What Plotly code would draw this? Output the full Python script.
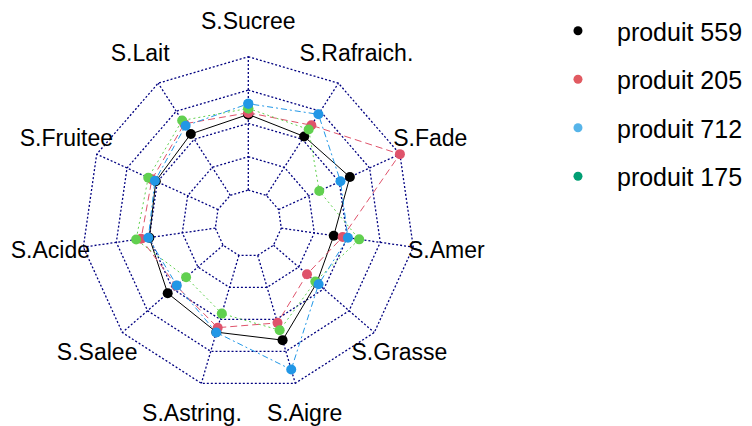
import plotly.graph_objects as go

# ---- data (grid units: 0 = innermost ring, 4 = outer ring) ----
labels = ["S.Sucree", "S.Rafraich.", "S.Fade", "S.Amer", "S.Grasse", "S.Aigre",
          "S.Astring.", "S.Salee", "S.Acide", "S.Fruitee", "S.Lait"]
p559 = [2.27, 2.10, 2.35, 1.59, 1.72, 2.65, 2.40, 2.20, 2.00, 2.05, 2.19]
p205 = [2.32, 2.50, 4.00, 1.86, 1.33, 2.11, 2.26, 1.86, 2.25, 2.18, 2.55]
p175 = [2.45, 2.35, 1.34, 2.36, 1.66, 2.34, 1.82, 1.47, 2.40, 2.30, 2.67]
p712 = [2.59, 2.89, 2.04, 2.02, 1.79, 3.57, 2.41, 1.84, 2.03, 2.08, 2.48]
grid_levels = [0, 1, 2, 3, 4]
label_level = 5
legend_names = ["produit 559", "produit 205", "produit 712", "produit 175"]
legend_colors = ["#000000", "#E15A61", "#56B4E9", "#009E73"]

FONT = "Liberation Sans, Arial, sans-serif"
NAVY = "#000080"

fig = go.Figure()

closed = labels + [labels[0]]

# grid rings
for lv in grid_levels:
    fig.add_trace(go.Scatterpolar(
        r=[lv] * len(closed), theta=closed, mode="lines",
        line=dict(color=NAVY, width=1.3, dash="2px,2px"),
        hoverinfo="skip", showlegend=False))

# spokes
sp_r, sp_t = [], []
for lab in labels:
    sp_r += [grid_levels[0], grid_levels[-1], None]
    sp_t += [lab, lab, None]
fig.add_trace(go.Scatterpolar(
    r=sp_r, theta=sp_t, mode="lines", connectgaps=False,
    line=dict(color=NAVY, width=1.3, dash="2px,2px"),
    hoverinfo="skip", showlegend=False))

# series (plot order as in the original)
series = [
    ("produit 559", p559, "#000000", "solid"),
    ("produit 205", p205, "#DF536B", "7px,4px"),
    ("produit 175", p175, "#61D04F", "2px,3px"),
    ("produit 712", p712, "#2297E6", "2px,3px,6px,3px"),
]
for name, vals, col, dash in series:
    fig.add_trace(go.Scatterpolar(
        r=vals + [vals[0]], theta=closed, mode="lines+markers", name=name,
        line=dict(color=col, width=1, dash=dash),
        marker=dict(color=col, size=10),
        showlegend=False, cliponaxis=False))

# axis labels
fig.add_trace(go.Scatterpolar(
    r=[label_level] * len(labels), theta=labels, mode="text", text=labels,
    textposition="middle center",
    textfont=dict(family=FONT, size=23, color="#000000"),
    hoverinfo="skip", showlegend=False, cliponaxis=False))

# legend entries
for i, (nm, col) in enumerate(zip(legend_names, legend_colors)):
    fig.add_trace(go.Scatterpolar(
        r=[None], theta=[labels[0]], mode="markers", name=nm,
        marker=dict(color=col, size=9), legendgroup=f"g{i}", showlegend=True))

fig.update_layout(
    width=752, height=426,
    margin=dict(l=0, r=0, t=0, b=0),
    paper_bgcolor="white", plot_bgcolor="white",
    font=dict(family=FONT, size=22, color="#000000"),
    polar=dict(
        domain=dict(x=[0.05359, 0.58551], y=[0.02488, 0.96385]),
        bgcolor="rgba(0,0,0,0)",
        gridshape="linear",
        radialaxis=dict(range=[-1, 5], visible=False, showgrid=False),
        angularaxis=dict(direction="clockwise", rotation=90, visible=False,
                         showgrid=False, categoryarray=labels,
                         categoryorder="array"),
    ),
    legend=dict(x=0.7061, y=1.0, xanchor="left", yanchor="top",
                font=dict(family=FONT, size=25, color="#000000"),
                itemwidth=68, tracegroupgap=13, bgcolor="rgba(0,0,0,0)",
                traceorder="grouped"),
    showlegend=True,
)

fig.write_html("out.html")
